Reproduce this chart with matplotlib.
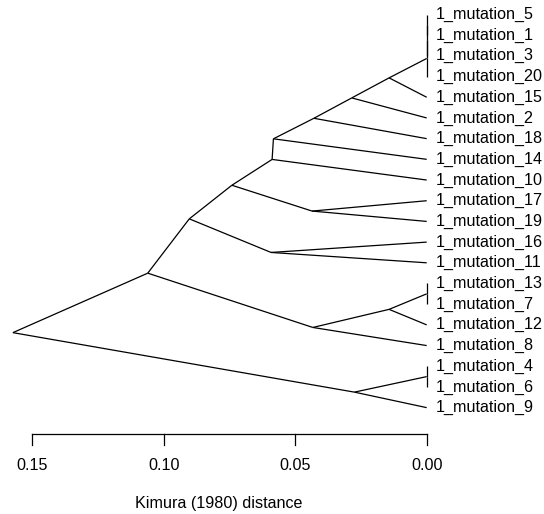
import matplotlib
matplotlib.use("Agg")
import matplotlib.pyplot as plt

# tip labels, top to bottom
tip_labels = ["1_mutation_5", "1_mutation_1", "1_mutation_3", "1_mutation_20",
              "1_mutation_15", "1_mutation_2", "1_mutation_18", "1_mutation_14",
              "1_mutation_10", "1_mutation_17", "1_mutation_19", "1_mutation_16",
              "1_mutation_11", "1_mutation_13", "1_mutation_7", "1_mutation_12",
              "1_mutation_8", "1_mutation_4", "1_mutation_6", "1_mutation_9"]

# merges (scipy-like: tips 0..19, new node ids start at 20)
merge_left = [0, 20, 21, 22, 23, 24, 25, 26, 9, 27, 11, 29, 13, 32, 33, 31, 17, 36, 35]
merge_right = [1, 2, 3, 4, 5, 6, 7, 8, 10, 28, 12, 30, 14, 15, 16, 34, 18, 19, 37]
merge_height = [0.0, 0.0, 0.0, 0.0143, 0.0285, 0.0429, 0.0583, 0.0588, 0.0436, 0.0741,
                0.0592, 0.0903, 0.0, 0.0143, 0.0433, 0.1061, 0.0, 0.0275, 0.1574]

tick_values = [0.15, 0.10, 0.05, 0.00]
tick_labels = ["0.15", "0.10", "0.05", "0.00"]
x_label = "Kimura (1980) distance"

plt.rcParams['font.family'] = ['Liberation Sans', 'DejaVu Sans']
fs = 11.6

fig = plt.figure(figsize=(5.44, 5.14), dpi=100)
ax = fig.add_axes([0, 0, 1, 1])
ax.set_xlim(0.1623, -0.04462)
ax.set_ylim(24.14, -0.7008)
ax.axis("off")

n = len(tip_labels)
xs = [0.0] * n
ys = [float(i) for i in range(n)]
for l, r, h in zip(merge_left, merge_right, merge_height):
    xs.append(h)
    ys.append((ys[l] + ys[r]) / 2)
    for c in (l, r):
        ax.plot([h, xs[c]], [ys[-1], ys[c]], color="black", lw=0.9,
                solid_capstyle="butt")

for i, lab in enumerate(tip_labels):
    ax.text(-0.0035, i, lab, ha="left", va="center", fontsize=fs)

# scale axis
axis_y = 20.29
ax.plot([max(tick_values), min(tick_values)], [axis_y, axis_y], color="black", lw=0.9)
for v, s in zip(tick_values, tick_labels):
    ax.plot([v, v], [axis_y, 20.81], color="black", lw=0.9)
    ax.text(v, 22.02, s, ha="center", va="baseline", fontsize=fs)
ax.text(0.0790, 23.87, x_label, ha="center", va="baseline", fontsize=fs)

fig.savefig("out.png", dpi=100)
